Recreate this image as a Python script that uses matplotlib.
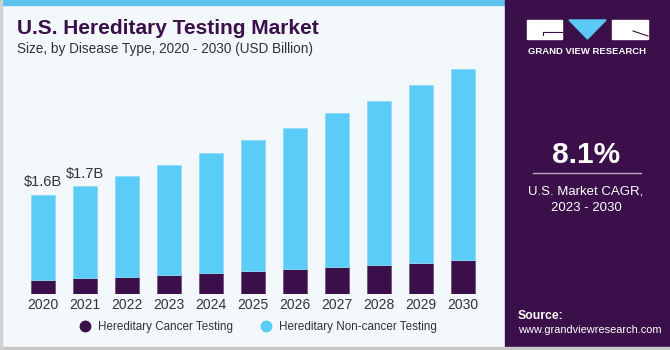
import numpy as np
import matplotlib
matplotlib.use('Agg')
import matplotlib.pyplot as plt
from matplotlib.patches import Rectangle, Polygon
from matplotlib.lines import Line2D

## Data
years = ['2020', '2021', '2022', '2023', '2024', '2025', '2026', '2027', '2028', '2029', '2030']
total = [1.60, 1.74, 1.91, 2.08, 2.28, 2.49, 2.68, 2.92, 3.12, 3.38, 3.64]
cancer = [0.23, 0.26, 0.27, 0.31, 0.34, 0.37, 0.40, 0.44, 0.47, 0.50, 0.55]
noncancer = [t - c for t, c in zip(total, cancer)]
value_labels = {0: '$1.6B', 1: '$1.7B'}
series_names = ['Hereditary Cancer Testing', 'Hereditary Non-cancer Testing']

## Style
dark = '#3A0F4A'
cyan = '#5BCBF7'
bg = '#F3F8FC'
W, H = 670, 350

plt.rcParams['font.family'] = ['Liberation Sans', 'DejaVu Sans']


def fx(x):
    return x / W


def fy(y):
    return 1 - y / H


fig = plt.figure(figsize=(6.7, 3.5), dpi=100)
fig.patch.set_facecolor(bg)

# top stripe, right panel, borders
fig.patches.append(Rectangle((0, fy(5)), fx(505), 5 / H, transform=fig.transFigure, color='#5BC3EE', zorder=0))
fig.patches.append(Rectangle((fx(505), 0), 1 - fx(505), 1, transform=fig.transFigure, color=dark, zorder=0))
fig.patches.append(Rectangle((0, 0), 1, 3 / H, transform=fig.transFigure, color='#C8C8C8', zorder=5))
fig.patches.append(Rectangle((0, 0), 1.5 / W, 1, transform=fig.transFigure, color='#D0D0D0', zorder=5))

## Chart
ax = fig.add_axes([fx(10), fy(294), fx(497) - fx(10), (294 - 60) / H])
ax.set_facecolor('none')
x = np.arange(len(years))
ax.bar(x, cancer, width=0.57, color=dark, edgecolor='#5A3A6A', linewidth=0.4)
ax.bar(x, noncancer, bottom=cancer, width=0.57, color=cyan, edgecolor='#8DDBFA', linewidth=0.6)
for i, lab in value_labels.items():
    ax.annotate(lab, (x[i], total[i]), xytext=(0, 4), textcoords='offset points',
                ha='center', va='bottom', fontsize=10.5, color='#333333')
ax.set_xlim(-0.786, 10.81)
ax.set_ylim(0, 234 / 61.9)
ax.set_xticks(x, years)
ax.tick_params(axis='x', length=0, pad=3, labelsize=10, labelcolor='#333333')
ax.set_yticks([])
for s in ax.spines.values():
    s.set_visible(False)

# legend
handles = [Line2D([], [], marker='o', linestyle='none', markersize=7.5, color=dark),
           Line2D([], [], marker='o', linestyle='none', markersize=7.5, color=cyan)]
fig.legend(handles, series_names, loc='center', bbox_to_anchor=(fx(255), fy(327)), ncol=2,
           frameon=False, fontsize=8.4, handletextpad=0.1, columnspacing=1.8,
           labelcolor='#333333')

## Titles
fig.text(fx(17), fy(29), 'U.S. Hereditary Testing Market', fontsize=15, fontweight='bold',
         color=dark, va='center', ha='left')
fig.text(fx(17), fy(49), 'Size, by Disease Type, 2020 - 2030 (USD Billion)', fontsize=9.8,
         color='#333333', va='center', ha='left')

## Right panel: logo
fig.patches.append(Rectangle((fx(527), fy(39)), fx(35), 19 / H, transform=fig.transFigure, color='white', zorder=2))
fig.add_artist(Line2D([fx(543), fx(562)], [fy(32), fy(32)], color=dark, lw=0.8, zorder=3))
fig.add_artist(Line2D([fx(543), fx(543)], [fy(32), fy(35)], color=dark, lw=0.8, zorder=3))
fig.patches.append(Polygon([(fx(569), fy(20)), (fx(606), fy(20)), (fx(587.5), fy(39))],
                           closed=True, transform=fig.transFigure, color='#5BC8F5', zorder=2))
fig.patches.append(Rectangle((fx(612), fy(39)), fx(36), 19 / H, transform=fig.transFigure, color='white', zorder=2))
fig.add_artist(Line2D([fx(633), fx(648)], [fy(31), fy(36)], color=dark, lw=0.8, zorder=3))
fig.text(fx(587), fy(51), 'GRAND VIEW RESEARCH', fontsize=6.8, fontweight='bold', color='white',
         ha='center', va='center')

# CAGR
fig.text(fx(586), fy(155), '8.1%', fontsize=21.5, fontweight='bold', color='white', ha='center', va='center')
fig.add_artist(Line2D([fx(533), fx(641)], [fy(173), fy(173)], color='#B8A8C0', lw=1))
fig.text(fx(586), fy(191), 'U.S. Market CAGR,', fontsize=9.5, color='white', ha='center', va='center')
fig.text(fx(586), fy(208), '2023 - 2030', fontsize=9.5, color='white', ha='center', va='center')

# source box with gradient
sax = fig.add_axes([fx(505), fy(347), 1 - fx(505), (347 - 283) / H])
grad = np.linspace(0, 1, 64).reshape(-1, 1)
cmap = matplotlib.colors.LinearSegmentedColormap.from_list('src', ['#3E2A66', '#4E68A8', '#4A9AD8'])
sax.imshow(grad, aspect='auto', cmap=cmap, extent=(0, 1, 1, 0))
sax.set_xlim(0, 1)
sax.set_ylim(1, 0)
sax.axis('off')
fig.text(fx(518), fy(316), 'Source:', fontsize=8.8, fontweight='bold', color='white', ha='left', va='center')
fig.text(fx(518), fy(330), 'www.grandviewresearch.com', fontsize=7.9, color='white', ha='left', va='center')

fig.savefig('out.png', dpi=100, facecolor=fig.get_facecolor())
